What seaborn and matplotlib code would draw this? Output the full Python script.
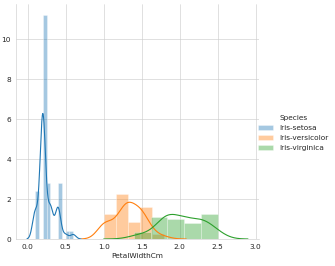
import warnings

import matplotlib
matplotlib.use('Agg')
import matplotlib.pyplot as plt
import numpy as np
import pandas as pd
import seaborn as sb

warnings.filterwarnings('ignore')

# PetalWidthCm from the iris data, per species
setosa = [0.2, 0.2, 0.2, 0.2, 0.2, 0.4, 0.3, 0.2, 0.2, 0.1,
          0.2, 0.2, 0.1, 0.1, 0.2, 0.4, 0.4, 0.3, 0.3, 0.3,
          0.2, 0.4, 0.2, 0.5, 0.2, 0.2, 0.4, 0.2, 0.2, 0.2,
          0.2, 0.4, 0.1, 0.2, 0.1, 0.2, 0.2, 0.1, 0.2, 0.2,
          0.3, 0.3, 0.2, 0.6, 0.4, 0.3, 0.2, 0.2, 0.2, 0.2]
versicolor = [1.4, 1.5, 1.5, 1.3, 1.5, 1.3, 1.6, 1.0, 1.3, 1.4,
              1.0, 1.5, 1.0, 1.4, 1.3, 1.4, 1.5, 1.0, 1.5, 1.1,
              1.8, 1.3, 1.5, 1.2, 1.3, 1.4, 1.4, 1.7, 1.5, 1.0,
              1.1, 1.0, 1.2, 1.6, 1.5, 1.6, 1.5, 1.3, 1.3, 1.3,
              1.2, 1.4, 1.2, 1.0, 1.3, 1.2, 1.3, 1.3, 1.1, 1.3]
virginica = [2.5, 1.9, 2.1, 1.8, 2.2, 2.1, 1.7, 1.8, 1.8, 2.5,
             2.0, 1.9, 2.1, 2.0, 2.4, 2.3, 1.8, 2.2, 2.3, 1.5,
             2.3, 2.0, 2.0, 1.8, 2.1, 1.8, 1.8, 1.8, 2.1, 1.6,
             1.9, 2.0, 2.2, 1.5, 1.4, 2.3, 2.4, 1.8, 1.8, 2.1,
             2.4, 2.3, 1.9, 2.3, 2.5, 2.3, 1.9, 2.0, 2.3, 1.8]
species_names = ['Iris-setosa', 'Iris-versicolor', 'Iris-virginica']


def old_distplot(x, **kwargs):
    # old seaborn used the statsmodels "scott" rule: 1.059 * min(std, IQR/1.349) * n^-0.2
    x = np.asarray(x)
    std = np.std(x, ddof=1)
    q75, q25 = np.percentile(x, [75, 25])
    sigma = min(std, (q75 - q25) / 1.349)
    factor = 1.059 * sigma * len(x) ** -0.2 / std
    sb.distplot(x, kde_kws={'bw_method': factor, 'linewidth': 1.5}, **kwargs)


def main():
    sb.set_style('whitegrid')
    values = setosa + versicolor + virginica
    species = [s for s, vals in zip(species_names, [setosa, versicolor, virginica]) for _ in vals]
    df = pd.DataFrame({'PetalWidthCm': values, 'Species': species})

    dpi = 53.2
    g = sb.FacetGrid(df, hue='Species', height=5)
    g.map(old_distplot, 'PetalWidthCm')
    g.add_legend()
    g.set_axis_labels('PetalWidthCm', '')

    g.fig.set_size_inches(335 / dpi, 266 / dpi)
    g.fig.subplots_adjust(left=16 / 335, right=259 / 335, top=1 - 4 / 266, bottom=1 - 239 / 266)
    g.fig.savefig('out.png', dpi=dpi)


main()
